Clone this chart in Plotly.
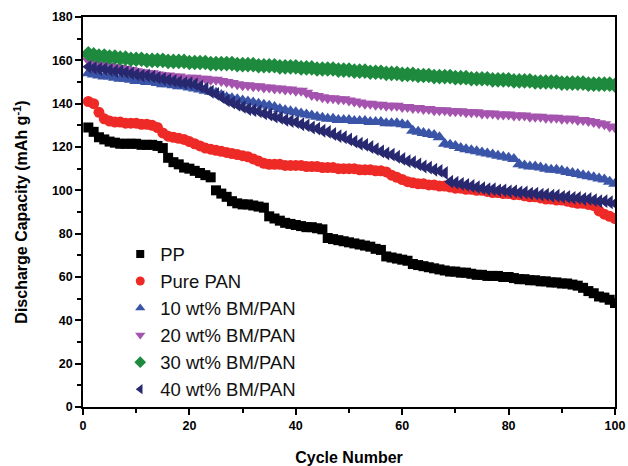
import plotly.graph_objects as go

cycles = list(range(1, 101))

pp = [129, 127, 124.5, 123.5, 122.5, 122, 121.5, 121.5, 121.5, 121.5,
      121, 121, 121, 120.5, 119.5, 115, 113, 112, 110.5, 110,
      109, 108, 107, 106, 100, 98.5, 97, 95, 94, 93.5,
      93.5, 93, 92.5, 92, 88, 87, 86, 85, 84.5, 84,
      83.5, 83, 83, 82.5, 82, 78, 77.5, 77, 76.5, 76,
      75.5, 75, 74.5, 74, 73, 72.5, 69.5, 69, 68.5, 68,
      67.5, 66, 65.5, 65, 64.5, 64, 63.5, 63, 62.5, 62.5,
      62, 62, 61.5, 61, 61, 60.5, 60.5, 60.5, 60, 60,
      59.5, 59, 59, 58.5, 58.5, 58, 58, 57.5, 57.5, 57,
      57, 56.5, 56, 55, 53.5, 52.5, 51, 50.5, 49.5, 48]

pure_pan = [141, 140, 136, 133, 132, 131.5, 131.5, 131, 131, 131,
            130.5, 130.5, 130, 129, 126.5, 125, 124.5, 124, 123.5, 122.5,
            121.5, 120.5, 119.5, 119, 118.5, 118, 117.5, 117, 116.5, 116,
            115.5, 114.5, 113.5, 112.5, 112, 112, 112, 111.5, 111.5, 111.5,
            111.5, 111, 111, 111, 110.5, 110.5, 110.5, 110, 110, 110,
            110, 109.5, 109.5, 109.5, 109, 109, 108.5, 107, 106, 105,
            104, 103.5, 103, 103, 102.5, 102.5, 102, 102, 101.5, 101,
            101, 100.5, 100.5, 100, 100, 99.5, 99, 99, 98.5, 98.5,
            98, 98, 97.5, 97, 97, 96.5, 96, 96, 95.5, 95.5,
            95, 94.5, 94, 94, 93.5, 93, 90.5, 89, 88, 87]

bm10 = [154, 153.5, 153, 152.5, 152.5, 152, 151.5, 151.5, 151, 150.5,
        150.5, 150, 150, 149.5, 149, 149, 148.5, 148, 148, 147.5,
        147, 146.5, 146, 145.5, 145, 144, 143, 142.5, 142, 141.5,
        141, 140.5, 140, 139.5, 139, 138.5, 137.5, 137, 136.5, 136,
        135.5, 135, 134.5, 134, 133.5, 133, 133, 132.5, 132.5, 132.5,
        132, 132, 132, 131.5, 131.5, 131.5, 131, 131, 131, 130.5,
        130, 127.5, 127, 126.5, 126, 125.5, 124.5, 121.5, 121, 120.5,
        119.5, 119, 118.5, 118, 117.5, 117, 116.5, 116, 115.5, 115,
        114.5, 112, 111.5, 111, 111, 110.5, 110, 109.5, 109.5, 109,
        108.5, 108, 107.5, 107, 106.5, 106, 105.5, 105, 104, 103]

bm20 = [160, 159, 158.5, 158, 157.5, 157, 156.5, 156, 155.5, 155,
        154.5, 154, 154, 153.5, 153, 153, 152.5, 152.5, 152, 152,
        152, 151.5, 151.5, 151, 151, 150.5, 150, 149.5, 149, 148.5,
        148.5, 148, 148, 147.5, 147.5, 147, 147, 146.5, 146.5, 146,
        146, 145, 144, 143.5, 143, 142.5, 142.5, 142, 142, 141.5,
        141, 140.5, 140, 140, 139.5, 139.5, 139, 139, 139, 138.5,
        138.5, 138, 138, 137.5, 137.5, 137, 137, 137, 136.5, 136.5,
        136.5, 136, 136, 136, 135.5, 135.5, 135.5, 135, 135, 135,
        134.5, 134.5, 134.5, 134, 134, 134, 133.5, 133.5, 133.5, 133,
        133, 133, 132.5, 132.5, 132, 131.5, 131, 130.5, 129.5, 129]

bm30 = [163, 162.5, 162, 162, 161.5, 161.5, 161, 161, 160.5, 160.5,
        160.5, 160, 160, 160, 160, 159.5, 159.5, 159.5, 159.5, 159,
        159, 159, 159, 158.5, 158.5, 158.5, 158.5, 158.5, 158, 158,
        158, 158, 157.5, 157.5, 157.5, 157.5, 157, 157, 157, 157,
        156.5, 156.5, 156.5, 156, 156, 156, 156, 155.5, 155.5, 155.5,
        155, 155, 155, 154.5, 154.5, 154.5, 154, 154, 154, 153.5,
        153.5, 153.5, 153, 153, 153, 152.5, 152.5, 152.5, 152.5, 152,
        152, 152, 151.5, 151.5, 151.5, 151.5, 151, 151, 151, 151,
        150.5, 150.5, 150.5, 150.5, 150, 150, 150, 150, 150, 149.5,
        149.5, 149.5, 149.5, 149.5, 149, 149, 149, 149, 149, 148.5]

bm40 = [157, 156.5, 156, 156, 155.5, 155, 155, 154.5, 154, 153.5,
        153, 153, 152.5, 152, 151.5, 151, 150.5, 150, 149.5, 149.5,
        149, 148, 147, 145.5, 144.5, 143, 141.5, 140.5, 139.5, 138.5,
        137.5, 137, 136.5, 135.5, 135, 134, 133.5, 132.5, 132, 131.5,
        130.5, 130, 129, 128.5, 127.5, 127, 126, 125, 124.5, 123.5,
        122.5, 121.5, 121, 120, 119, 118, 117, 116.5, 115.5, 114.5,
        113.5, 113, 112, 111, 110.5, 109.5, 109, 108, 104, 103.5,
        103, 102.5, 102, 101.5, 101, 100.5, 100.5, 100, 100, 99.5,
        99.5, 99, 99, 98.5, 98.5, 98, 98, 97.5, 97.5, 97,
        97, 96.5, 96.5, 96, 96, 95.5, 95, 95, 94.5, 94]

series = [
    ("PP", pp, "square", "#000000", 10),
    ("Pure PAN", pure_pan, "circle", "#ee2a27", 11),
    ("10 wt% BM/PAN", bm10, "triangle-up", "#3a55a8", 12),
    ("20 wt% BM/PAN", bm20, "triangle-down", "#a453ae", 12),
    ("30 wt% BM/PAN", bm30, "diamond", "#1d8a3e", 12),
    ("40 wt% BM/PAN", bm40, "triangle-left", "#27286f", 12),
]

fig = go.Figure()
for name, vals, sym, col, sz in series:
    fig.add_trace(go.Scatter(
        x=cycles, y=vals, mode="markers", name=name, showlegend=False,
        legendgroup=name,
        marker=dict(symbol=sym, color=col, size=sz, line=dict(width=0)),
    ))
# legend entries with smaller symbols, as in the reference
for name, vals, sym, col, sz in series:
    fig.add_trace(go.Scatter(
        x=[None], y=[None], mode="markers", name=name, legendgroup=name,
        marker=dict(symbol=sym, color=col, size=9 if sym != "square" else 8,
                    line=dict(width=0)),
    ))

axis_common = dict(
    showline=True, linecolor="black", linewidth=1.5, mirror=True,
    ticks="outside", ticklen=6, tickwidth=1.5, tickcolor="black",
    showgrid=False, zeroline=False, automargin=False,
    tickfont=dict(family="Arial", size=12.5, color="black", weight="bold"),
    minor=dict(ticks="outside", ticklen=4, tickwidth=1.5, tickcolor="black", dtick=10),
)

fig.update_xaxes(range=[0, 100], dtick=20, tick0=0,
                 title=dict(text="Cycle Number", standoff=22,
                            font=dict(family="Arial", size=16, color="black", weight="bold")),
                 **axis_common)
fig.update_yaxes(range=[0, 180], dtick=20, tick0=0,
                 title=dict(text="Discharge Capacity (mAh g<sup>-1</sup>)", standoff=20,
                            font=dict(family="Arial", size=16, color="black", weight="bold")),
                 **axis_common)

fig.update_layout(
    width=628, height=466,
    margin=dict(l=83, r=13, t=17, b=59),
    paper_bgcolor="white", plot_bgcolor="white",
    showlegend=True,
    legend=dict(x=0.07, y=0.44, xanchor="left", yanchor="top",
                bgcolor="rgba(0,0,0,0)", borderwidth=0,
                font=dict(family="Arial", size=18.5, color="#111111"),
                itemsizing="trace", tracegroupgap=0),
)

fig.write_html("out.html",
               config={"displayModeBar": False},
               post_script="document.body.style.margin='0px';document.body.style.padding='0px';")
